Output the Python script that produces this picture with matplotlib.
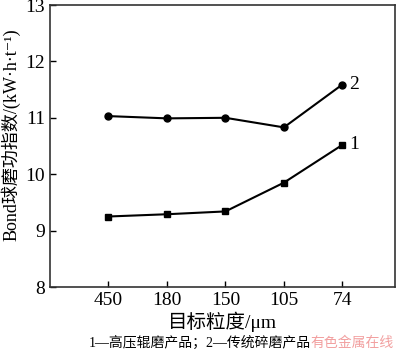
import matplotlib
matplotlib.use("Agg")
import matplotlib.pyplot as plt

categories = ["450", "180", "150", "105", "74"]
series1 = [9.25, 9.29, 9.34, 9.85, 10.52]   # 高压辊磨产品
series2 = [11.03, 10.99, 11.00, 10.83, 11.59]  # 传统碎磨产品

plt.rcParams['font.family'] = ['Liberation Serif', 'Noto Sans CJK SC', 'DejaVu Serif']

fig = plt.figure(figsize=(4.0, 3.52), dpi=100)
ax = fig.add_axes([50/400, 1-287/352, 345/400, 282/352])

x = list(range(len(categories)))
ax.plot(x, series1, color='black', lw=1.5, marker='s', ms=5)
ax.plot(x, series2, color='black', lw=1.5, marker='o', ms=5)
ax.text(x[-1] + 0.12, series1[-1], "1", fontsize=14, va='center', ha='left')
ax.text(x[-1] + 0.12, series2[-1], "2", fontsize=14, va='center', ha='left')

ax.set_xlim(-1, 4.9)
ax.set_ylim(8, 13)
ax.set_xticks(x)
ax.set_xticklabels(categories)
ax.set_yticks([8, 9, 10, 11, 12, 13])
ax.tick_params(direction='in', length=4, labelsize=14, width=1)
for s in ax.spines.values():
    s.set_linewidth(1.2)
    s.set_color('#333333')

ax.set_ylabel("Bond球磨功指数/(kW·h·t⁻¹)", fontsize=13, labelpad=2)
ax.yaxis.set_label_coords(-0.085, 0.54)
ax.set_xlabel("目标粒度/μm", fontsize=14, labelpad=2)
fig.text(0.5, 1-343/352, "1—高压辊磨产品；2—传统碎磨产品", ha='center', va='center', fontsize=10)
fig.text(0.985, 1-343/352, "有色金属在线", ha='right', va='center', fontsize=10, color='#f2a0a0')

fig.savefig("out.png", dpi=100)
